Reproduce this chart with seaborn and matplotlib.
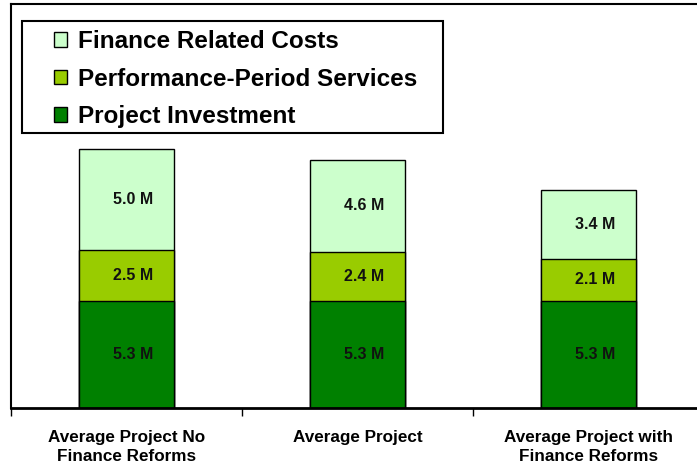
import matplotlib
matplotlib.use("Agg")
import matplotlib.pyplot as plt
from matplotlib.patches import Patch, Rectangle
import seaborn as sns
import pandas as pd

sns.set_theme(style="white")
plt.rcParams["font.family"] = ["Liberation Sans", "DejaVu Sans"]

# data (millions)
categories = ["Average Project No\nFinance Reforms", "Average Project",
              "Average Project with\nFinance Reforms"]
project_investment = [5.3, 5.3, 5.3]
performance_services = [2.5, 2.4, 2.1]
finance_costs = [5.0, 4.6, 3.4]

series_names = ["Project Investment", "Performance-Period Services",
                "Finance Related Costs"]
colors = ["#008000", "#99CC00", "#CCFFCC"]

df = pd.DataFrame({
    "category": categories,
    "Project Investment": project_investment,
    "Performance-Period Services": performance_services,
    "Finance Related Costs": finance_costs,
})
cum = df[series_names].cumsum(axis=1).assign(category=df["category"])

fig = plt.figure(figsize=(6.97, 4.63), dpi=100)
ax = fig.add_axes([11 / 697, 55 / 463, 686 / 697, 404 / 463])

# stacked bars: draw cumulative totals back to front
for name, color in reversed(list(zip(series_names, colors))):
    sns.barplot(data=cum, x="category", y=name, color=color,
                edgecolor="black", linewidth=1.0, width=0.41,
                saturation=1, ax=ax)

# value labels in each segment
for i in range(len(categories)):
    bottom = 0
    for name in series_names:
        v = df[name][i]
        ax.annotate(f"{v:.1f} M", (i, bottom + v / 2), xytext=(5, 0),
                    textcoords="offset points", ha="center", va="center",
                    fontsize=11.5, fontweight="bold", color="#111111")
        bottom += v

ax.set_ylim(0, 20)
ax.set_xlim(-0.5, 2.47)
ax.set_xlabel("")
ax.set_ylabel("")
ax.set_yticks([])
ax.set_xticks(range(len(categories)))
ax.set_xticklabels(categories, fontsize=12.3, fontweight="bold", linespacing=1.4,
                   color="black")
ax.tick_params(axis="x", which="major", length=0, pad=15.5)
ax.set_xticks([-0.5, 0.5, 1.5], minor=True)
ax.tick_params(axis="x", which="minor", length=6, width=1, color="black",
               direction="out", bottom=True)

for side in ["left", "top"]:
    ax.spines[side].set_color("black")
    ax.spines[side].set_linewidth(1.5)
ax.spines["bottom"].set_color("black")
ax.spines["bottom"].set_linewidth(2)
ax.spines["right"].set_visible(False)

# legend box drawn separately so its padding matches the reference
fig.add_artist(Rectangle((22 / 697, 1 - 133 / 463), 421 / 697, 112 / 463,
                         transform=fig.transFigure, facecolor="white",
                         edgecolor="black", linewidth=1.5, zorder=5))
handles = [Patch(facecolor=c, edgecolor="black", linewidth=1.0)
           for c in reversed(colors)]
leg = fig.legend(handles, list(reversed(series_names)), loc="upper left",
                 bbox_to_anchor=(54 / 697, 1 - 30 / 463), borderaxespad=0,
                 borderpad=0, frameon=False,
                 prop={"size": 17.5, "weight": "bold"}, labelcolor="black",
                 handlelength=0.55, handleheight=0.55, handletextpad=0.45,
                 labelspacing=0.6)
leg.set_zorder(6)

fig.savefig("out.png", dpi=100)
